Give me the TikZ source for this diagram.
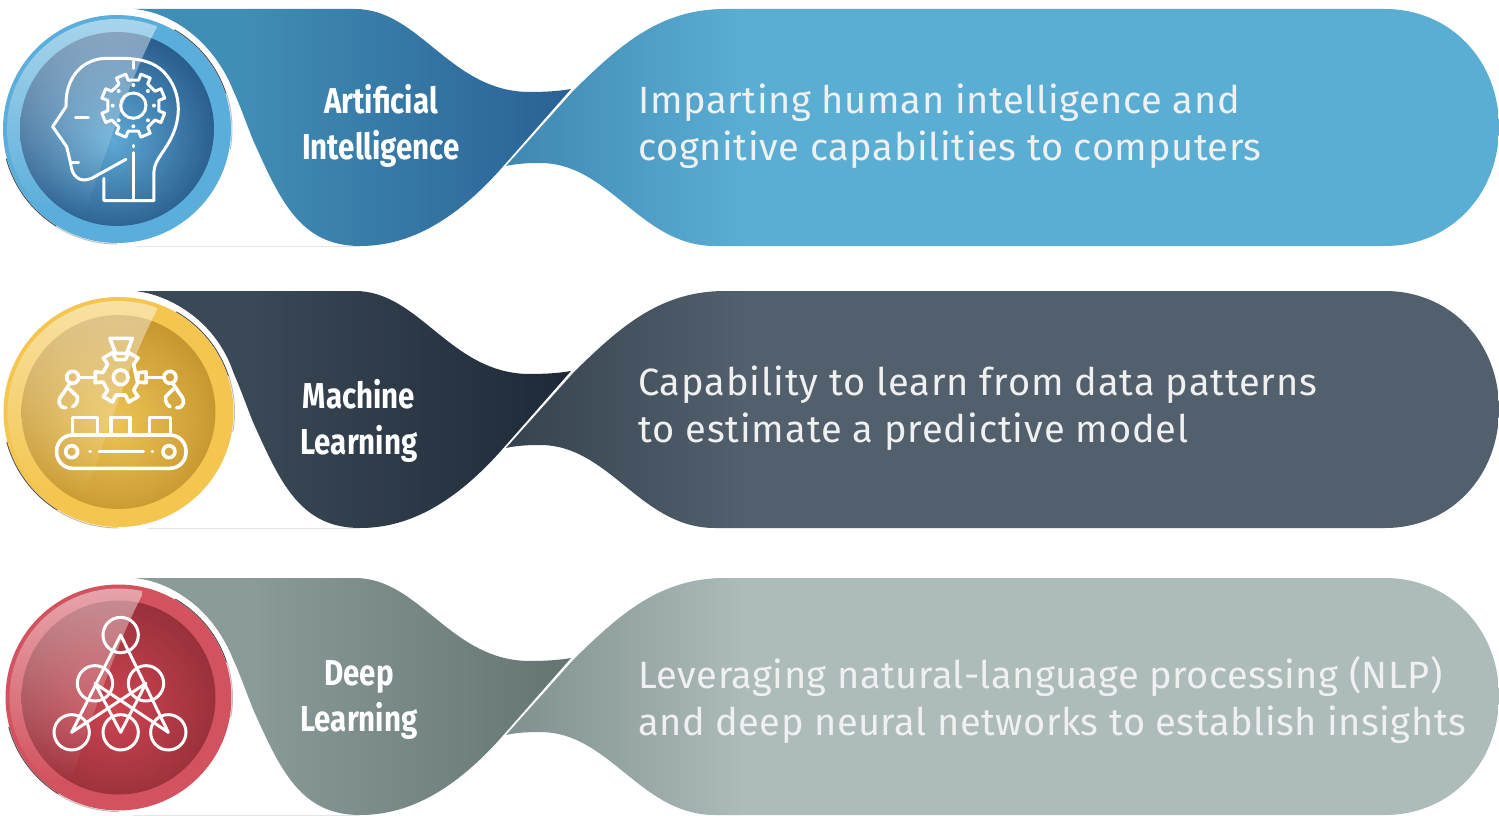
\documentclass[tikz,border=0pt]{standalone}
\usepackage{fontspec}
\usetikzlibrary{fadings}
\newfontfamily\bodyfont[LetterSpace=1.7]{Fira Sans}
\newfontfamily\bodyfontb[LetterSpace=2.4]{Fira Sans}
\newfontfamily\bodyfontc[LetterSpace=1.35]{Fira Sans}
\newfontfamily\labelfont[FakeStretch=0.82]{Fira Sans Bold}
\tikzfading[name=glossfade, top color=transparent!50, bottom color=transparent!100]
\tikzset{
  icon/.style={draw=white, line width=3pt, line join=round, line cap=round},
  bodytext/.style={anchor=west, align=left, text=white!94!black, font=\bodyfont\fontsize{38}{47}\selectfont, inner sep=0pt},
  labeltext/.style={align=center, text=white, font=\labelfont\fontsize{36}{46}\selectfont, inner sep=0pt},
}
\definecolor{ringA}{HTML}{5AAEDB}\definecolor{ringB}{HTML}{F4C64F}\definecolor{ringC}{HTML}{D2535F}
% shadings: a path bounding box maps onto 25bp..75bp
\newcommand{\makeshades}[7]{%
  \definecolor{tmpa}{HTML}{#2}\definecolor{tmpb}{HTML}{#3}\definecolor{tmpc}{HTML}{#4}\definecolor{tmpd}{HTML}{#5}%
  \definecolor{tmpe}{HTML}{#6}\definecolor{tmpf}{HTML}{#7}%
  \pgfdeclarehorizontalshading{left#1}{100bp}{color(0bp)=(tmpa); color(38bp)=(tmpa); color(75bp)=(tmpb); color(100bp)=(tmpb)}%
  \pgfdeclarehorizontalshading{right#1}{100bp}{color(0bp)=(tmpc); color(25bp)=(tmpc); color(37bp)=(tmpd); color(100bp)=(tmpd)}%
  \pgfdeclareradialshading{disc#1}{\pgfpoint{-1bp}{-3bp}}{color(0bp)=(tmpe); color(27bp)=(tmpf); color(50bp)=(tmpf)}%
}
\makeshades{A}{408DB5}{2A6195}{3F87B2}{5AAED3}{5DA9D4}{285B8C}
\makeshades{B}{3B4855}{1D2936}{36434F}{525F6D}{EDC455}{C6962E}
\makeshades{C}{8B9B99}{647472}{7F908E}{ADBBBA}{CC4450}{97303A}
% #1 row offset, #2 letter, #3 centre x, #4 centre y, #5 ring radius, #6 disc radius, #7 gloss end x
\newcommand{\bandrow}[7]{%
\begin{scope}[shift={(0,#1)}]
  \draw[black!10, line width=.6pt] (133,246.5) -- (360,246.5);
  \path[shading=left#2] (133,9) -- (355,9) .. controls (420,9) and (450,92) .. (530,92)
     .. controls (545,92) and (560,91) .. (571,89) -- (499,171)
     .. controls (450,225) and (405,246) .. (360,246)
     .. controls (300,246) and (280,200) .. (253,140)
     .. controls (245,120) and (240,105) .. (233,90)
     .. controls (215,45) and (175,12) .. (133,9) -- cycle;
  \path[shading=right#2] (574,90) .. controls (620,45) and (660,9) .. (725,9) -- (1385,9)
     .. controls (1450,9) and (1499,60) .. (1499,127)
     .. controls (1499,195) and (1450,246) .. (1385,246) -- (715,246)
     .. controls (640,246) and (610,163) .. (540,163)
     .. controls (525,163) and (515,164) .. (506,166) -- cycle;
\end{scope}
\fill[white] (#3,#4-1) circle[radius=#5+6];
\draw[black!70, line width=1pt] ([shift={(#3,#4)}]-60:#5+.6) arc[start angle=-60, end angle=-18, radius=#5+.6];
\draw[black!70, line width=1pt] ([shift={(#3,#4)}]122:#5+.6) arc[start angle=122, end angle=165, radius=#5+.6];
\draw[black!25, line width=1pt] ([shift={(#3,#4)}]-18:#5+1) arc[start angle=-18, end angle=10, radius=#5+1];
\draw[black!25, line width=1pt] ([shift={(#3,#4)}]90:#5+1) arc[start angle=90, end angle=122, radius=#5+1];
\fill[ring#2] (#3,#4) circle[radius=#5];
\path[shading=disc#2] (#3,#4) circle[radius=#6];
\begin{scope}
  \clip (#3,#4) circle[radius=#5-4];
  \path[fill=white, path fading=glossfade] (#7,#4-102) .. controls (#7-25,#4-55) and (#7-50,#4+20) .. (#7-72,#4+85)
     -- (#3-120,#4+85) -- (#3-120,#4-120) -- (#7,#4-120) -- cycle;
\end{scope}
}
\begin{document}
\begin{tikzpicture}[x=1pt,y=-1pt]
\useasboundingbox (0,0) rectangle (1499,816);
\fill[white] (0,0) rectangle (1499,816);
\bandrow{0}{A}{117}{129}{114}{97}{157}
\bandrow{282}{B}{118.5}{412}{115}{97}{157}
\bandrow{569}{C}{118.5}{697.5}{113}{97}{142}

% --- icon 1: head and gear
\begin{scope}[x=.3333pt,y=-.3333pt,icon]
  \draw (312,535) -- (312,602) -- (462,602) -- (462,515) .. controls (462,480) and (500,450) .. (520,400)
    .. controls (545,340) and (540,270) .. (495,220) .. controls (450,170) and (380,175) .. (320,175)
    .. controls (250,175) and (195,230) .. (198,320) -- (158,380) -- (200,440) -- (212,490)
    .. controls (215,530) and (240,550) .. (275,535) -- (378,478);
  \draw (214,487) -- (236,487);
  \draw (400,458) -- (400,602);
  \draw (400,436) -- (400,441);
  \draw (400,185) -- (400,205);
  \draw (227,352) -- (265,352);
  \begin{scope}[shift={(400,317)}]
    \draw (0,0) circle[radius=38];
    \draw (22.5-11:78) \foreach \a in {22.5,67.5,...,337.5}{ -- (\a-11:78) -- (\a-9:97) -- (\a+9:97) -- (\a+11:78)} -- cycle;
    \foreach \a in {0,45,...,315} \fill[white] (\a:62) circle[radius=6];
  \end{scope}
\end{scope}

% --- icon 2: conveyor
\begin{scope}[shift={(0,285)},x=.3333pt,y=-.3333pt,icon,line width=3.6pt]
  \draw (330,160) -- (397,160) -- (380,205) -- (347,205) -- cycle;
  \begin{scope}[shift={(362,277)}]
    \draw (0,0) circle[radius=22];
    \draw (15:52) \foreach \a in {0,60,...,300}{ -- (\a-15:55) -- (\a-12:78) -- (\a+12:78) -- (\a+15:55)} -- cycle;
  \end{scope}
  \draw (218,277) circle[radius=18];
  \draw (510,277) circle[radius=18];
  \draw (236,277) -- (285,277);
  \draw (492,277) -- (440,277);
  \draw (210,295) -- (190,325) .. controls (170,345) and (175,370) .. (198,368);
  \draw (208,312) -- (232,335) .. controls (235,352) and (225,362) .. (218,365);
  \draw (518,295) -- (538,325) .. controls (558,345) and (553,370) .. (530,368);
  \draw (520,312) -- (497,335) .. controls (494,352) and (504,362) .. (510,365);
  \draw (217,450) -- (217,398) -- (292,398) -- (292,450);
  \draw (333,450) -- (333,398) -- (390,398) -- (390,450);
  \draw (448,450) -- (448,398) -- (512,398) -- (512,450);
  \draw[rounded corners=16pt] (170,450) rectangle (558,550);
  \draw (215,500) circle[radius=18];
  \draw (507,500) circle[radius=18];
  \draw (298,500) -- (430,500);
  \draw (270,500) -- (271,500);
  \draw (457,500) -- (458,500);
\end{scope}

% --- icon 3: network
\begin{scope}[shift={(0,570)},x=.3333pt,y=-.3333pt,icon]
  \foreach \p in {(362,195),(285,340),(438,340),(215,487),(362,487),(505,487)}
    \draw \p circle[radius=53];
  \draw (215,487) -- (362,195) -- (505,487);
  \draw (362,487) -- (285,340) -- (505,487);
  \draw (215,487) -- (438,340) -- (362,487);
\end{scope}

\node[labeltext] (la) at (381,126) {Artificial\\Intelligence};
\node[labeltext] (lb) at (359,421) {Machine\\Learning};
\node[labeltext] (lc) at (359,700) {Deep\\Learning};
\node[bodytext] (ta) at (638,126) {Imparting human intelligence and\\cognitive capabilities to computers};
\node[bodytext,font=\bodyfontb\fontsize{38}{47}\selectfont] (tb) at (638,408) {Capability to learn from data patterns\\to estimate a predictive model};
\node[bodytext,font=\bodyfontc\fontsize{38}{47}\selectfont] (tc) at (638,700) {Leveraging natural-language processing (NLP)\\and deep neural networks to establish insights};
\end{tikzpicture}
\end{document}
